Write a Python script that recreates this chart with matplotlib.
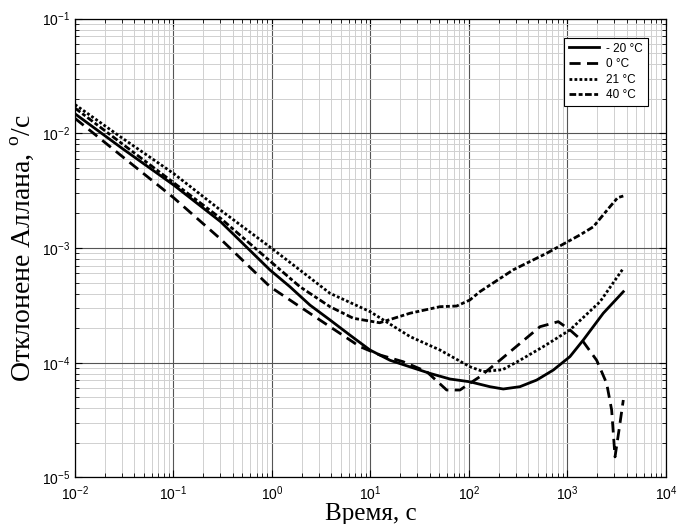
import numpy as np
import matplotlib
matplotlib.use("Agg")
import matplotlib.pyplot as plt
from matplotlib.ticker import LogLocator, NullFormatter

# Девиация Аллана при разных температурах
t_m20 = [0.01, 0.03, 0.1, 0.3, 0.955, 1.52, 2.43, 3.88, 6.19, 9.89, 15.8, 25.2,
         40.2, 64.1, 102, 163, 223, 329, 487, 718, 1060, 1450, 2310, 3690]
s_m20 = [1.48e-2, 7.41e-3, 3.55e-3, 1.70e-3, 6.43e-4, 4.60e-4, 3.18e-4, 2.36e-4,
         1.74e-4, 1.29e-4, 1.05e-4, 9.2e-5, 8.07e-5, 7.21e-5, 6.82e-5, 6.18e-5,
         5.90e-5, 6.18e-5, 7.06e-5, 8.63e-5, 1.13e-4, 1.58e-4, 2.70e-4, 4.16e-4]

t_0 = [0.01, 0.03, 0.1, 0.3, 0.955, 1.92, 3.88, 7.82, 12.4, 21.5, 37.2, 59.4,
       81, 102, 129, 206, 526, 807, 1060, 1450, 1980, 2500, 2810, 3040, 3360,
       3690]
s_0 = [1.35e-2, 6.31e-3, 2.75e-3, 1.20e-3, 4.60e-4, 3.08e-4, 2.06e-4, 1.38e-4,
       1.17e-4, 1.02e-4, 8.36e-5, 5.78e-5, 5.78e-5, 6.61e-5, 7.55e-5, 1.05e-4,
       2.06e-4, 2.28e-4, 1.93e-4, 1.52e-4, 1.05e-4, 6.61e-5, 3.87e-5, 1.51e-5,
       2.69e-5, 4.73e-5]

t_21 = [0.01, 0.03, 0.1, 0.3, 0.955, 1.92, 3.88, 9.89, 25.2, 50.8, 102, 140,
        220, 329, 568, 1060, 2140, 3690]
s_21 = [1.78e-2, 9.12e-3, 4.47e-3, 2.14e-3, 1.02e-3, 6.43e-4, 4.03e-4, 2.79e-4,
        1.69e-4, 1.29e-4, 9.23e-5, 8.36e-5, 8.7e-5, 1.05e-4, 1.38e-4, 1.93e-4,
        3.40e-4, 6.65e-4]

t_40 = [0.01, 0.03, 0.1, 0.3, 0.955, 1.92, 3.88, 6.7, 12.4, 25.2, 50.8, 75,
        102, 129, 282, 615, 1340, 1830, 2700, 3240, 3690]
s_40 = [1.66e-2, 8.13e-3, 3.72e-3, 1.82e-3, 7.7e-4, 4.60e-4, 3.08e-4, 2.44e-4,
        2.23e-4, 2.70e-4, 3.08e-4, 3.12e-4, 3.52e-4, 4.16e-4, 6.46e-4, 9.0e-4,
        1.30e-3, 1.53e-3, 2.29e-3, 2.75e-3, 2.84e-3]

labels = ["- 20 °C", "0 °C", "21 °C", "40 °C"]

plt.rcParams["font.family"] = ["Liberation Sans", "DejaVu Sans"]
plt.rcParams["mathtext.fontset"] = "custom"
plt.rcParams["mathtext.rm"] = "Liberation Serif"
plt.rcParams["axes.unicode_minus"] = False

fig = plt.figure(figsize=(6.81, 5.24), dpi=100)
ax = fig.add_axes([0.1101, 0.0889, 0.8678, 0.8756])

ax.loglog(t_m20, s_m20, color="black", lw=2, label=labels[0])
ax.loglog(t_0, s_0, color="black", lw=2, linestyle=(0, (4, 2.3)), label=labels[1])
ax.loglog(t_21, s_21, color="black", lw=2, linestyle=(0, (1, 0.8)), label=labels[2])
ax.loglog(t_40, s_40, color="black", lw=2, linestyle=(0, (2.4, 0.9, 1.4, 0.9)),
          label=labels[3])

ax.set_xlim(1e-2, 1e4)
ax.set_ylim(1e-5, 1e-1)
ax.xaxis.set_minor_locator(LogLocator(base=10, subs=np.arange(2, 10), numticks=20))
ax.yaxis.set_minor_locator(LogLocator(base=10, subs=np.arange(2, 10), numticks=20))
ax.xaxis.set_minor_formatter(NullFormatter())
ax.yaxis.set_minor_formatter(NullFormatter())

ax.grid(True, which="minor", color="#d0d0d0", lw=0.7)
ax.grid(True, which="major", color="#555555", lw=0.8)
ax.set_axisbelow(True)
ax.tick_params(which="both", direction="in", top=True, right=True, labelsize=10)
ax.tick_params(which="major", length=5)
ax.tick_params(which="minor", length=3)
ax.tick_params(axis="x", pad=5)
for sp in ax.spines.values():
    sp.set_linewidth(0.9)

ax.set_xlabel("Время, с", fontfamily="Liberation Serif", fontsize=18, labelpad=0)
ax.set_ylabel(r"Отклонене Аллана, $^{\mathrm{o}}$/с", fontfamily="Liberation Serif",
              fontsize=20, labelpad=4)

leg = ax.legend(loc="upper right", bbox_to_anchor=(0.9695, 0.958), borderaxespad=0,
                fontsize=8.5, handlelength=2.6, handletextpad=0.6, labelspacing=0.3,
                fancybox=False, framealpha=1, edgecolor="black")
leg.get_frame().set_linewidth(0.8)

fig.savefig("out.png", dpi=100)
